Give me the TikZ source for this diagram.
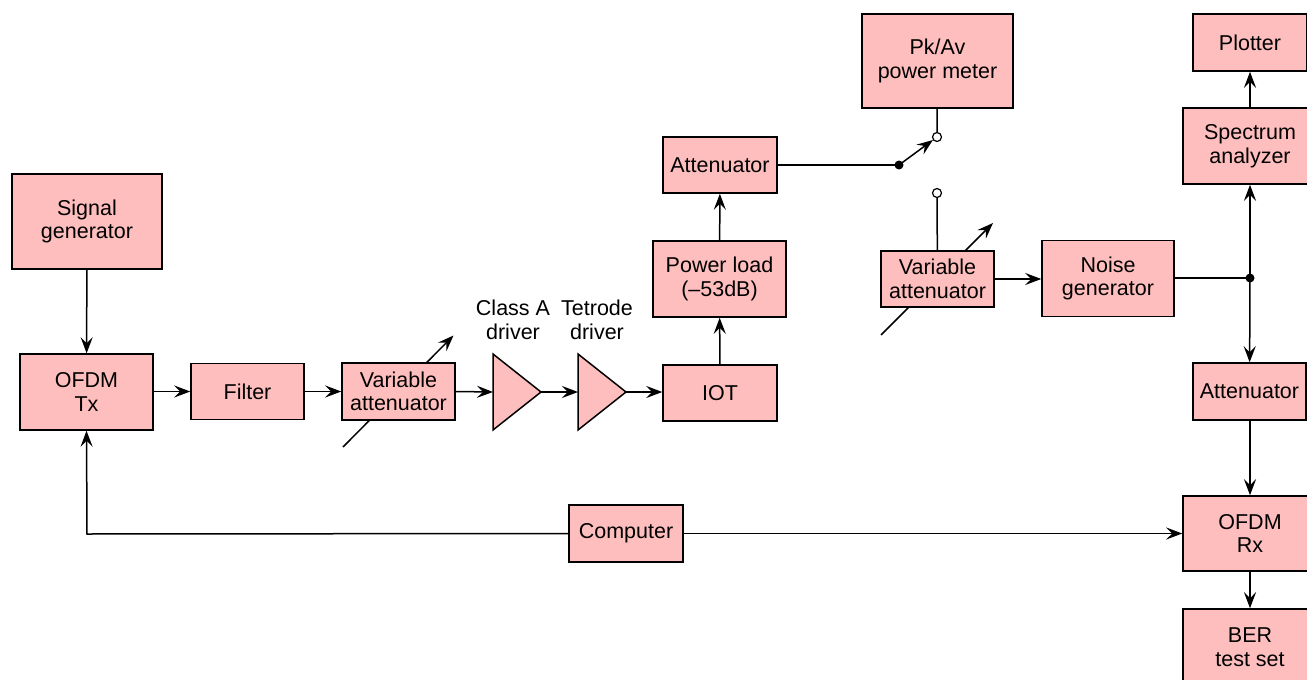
\documentclass[tikz,border=0pt]{standalone}
\usepackage{fontspec}
\setmainfont{Liberation Sans}
\usetikzlibrary{arrows.meta,calc}
\definecolor{boxpink}{RGB}{255,190,190}
\pgfdeclarelayer{bg}
\pgfsetlayers{bg,main}
\tikzset{
  blk/.style={draw=black, fill=boxpink, line width=1.5pt, inner sep=0pt, align=center,
    font=\fontsize{21.5}{23.5}\selectfont},
  lbl/.style={inner sep=0pt, align=center, font=\fontsize{21.5}{23.5}\selectfont},
  wire/.style={line width=1.5pt},
  arr/.style={wire, -{Stealth[length=16pt,width=12pt,inset=6pt]}},
  dotfill/.style={circle, fill=black, inner sep=0pt, minimum size=9pt},
  dotopen/.style={circle, draw=black, fill=white, line width=1.2pt, inner sep=0pt, minimum size=9pt},
  tri/.style={draw=black, fill=boxpink, line width=1.5pt, line join=miter}
}
\begin{document}
\begin{tikzpicture}[x=1pt,y=-1pt]
\useasboundingbox (0,0) rectangle (1307,680);
\clip (0,0) rectangle (1307,680);
% blocks
\node[blk, minimum width=150, minimum height=95] (sig) at (87,221.5) {Signal\\generator};
\node[blk, minimum width=133, minimum height=76] (tx) at (86.5,392) {OFDM\\Tx};
\node[blk, minimum width=113, minimum height=56] (filt) at (247.5,391.5) {Filter};
\node[blk, minimum width=113, minimum height=57] (va1) at (398.5,391.5) {Variable\\attenuator};
\node[blk, minimum width=114, minimum height=56] (iot) at (720,393) {IOT};
\node[blk, minimum width=133, minimum height=76] (pl) at (719.5,279) {Power load\\(–53dB)};
\node[blk, minimum width=114, minimum height=56] (att1) at (720,165) {Attenuator};
\node[blk, minimum width=151, minimum height=94] (pk) at (937.5,61) {Pk/Av\\power meter};
\node[blk, minimum width=113, minimum height=56] (va2) at (937.5,279) {Variable\\attenuator};
\node[blk, minimum width=132, minimum height=76] (noise) at (1108,278.5) {Noise\\generator};
\node[blk, minimum width=134, minimum height=76] (spec) at (1250,146) {Spectrum\\analyzer};
\node[blk, minimum width=114, minimum height=57] (plot) at (1250,42.5) {Plotter};
\node[blk, minimum width=113, minimum height=57] (att2) at (1249.5,391.5) {Attenuator};
\node[blk, minimum width=134, minimum height=75] (rx) at (1250,533.5) {OFDM\\Rx};
\node[blk, minimum width=134, minimum height=76] (ber) at (1250,647) {BER\\test set};
\node[blk, minimum width=114, minimum height=57] (comp) at (626,533.5) {Computer};
% amplifiers
\coordinate (t1in) at (493,392);
\coordinate (t1out) at (541,392);
\coordinate (t2in) at (578,392);
\coordinate (t2out) at (626,392);
\draw[tri] (493,354) -- (t1out) -- (493,430) -- cycle;
\draw[tri] (578,354) -- (t2out) -- (578,430) -- cycle;
\node[lbl] (lA) at (513,320) {Class A\\driver};
\node[lbl] (lT) at (597,320) {Tetrode\\driver};
% switch
\node[dotfill] (sw) at (899,165) {};
\node[dotopen] (o1) at (937,137) {};
\node[dotopen] (o2) at (937,193) {};
\node[dotfill] (j) at (1250,278) {};
\coordinate (bend1) at (87,534);
% variable attenuator arrows (behind boxes)
\begin{pgfonlayer}{bg}
\draw[arr] ($(va1.center)+(-55.5,55.5)$) -- ($(va1.center)+(55,-56)$);
\draw[arr] ($(va2.center)+(-56.5,56)$) -- ($(va2.center)+(55.5,-56)$);
\end{pgfonlayer}
% connectors
\draw[arr] (sig) -- (tx);
\draw[arr] (tx.east |- filt.west) -- (filt.west);
\draw[arr] (filt) -- (va1);
\draw[arr] (va1.east) -- (t1in);
\draw[arr] (t1out) -- (t2in);
\draw[arr] (t2out) -- (iot.west |- t2out);
\draw[arr] (iot) -- (pl);
\draw[arr] (pl) -- (att1);
\draw[wire] (att1.east) -- (sw.center);
\draw[arr] (sw.center) -- (o1);
\draw[wire] (pk) -- (o1);
\draw[wire] (o2) -- (va2);
\draw[arr] (va2.east) -- (noise.west |- va2.east);
\draw[wire] (noise.east |- j) -- (j.center);
\draw[arr] (j.center) -- (spec);
\draw[arr] (spec) -- (plot);
\draw[arr] (j.center) -- (att2);
\draw[arr] (att2.south -| rx.north) -- (rx);
\draw[arr] (rx) -- (ber);
\draw[arr] (comp.east) -- (rx.west |- comp.east);
\draw[arr] (comp.west) -- (bend1) -- (tx.south);
\end{tikzpicture}
\end{document}
